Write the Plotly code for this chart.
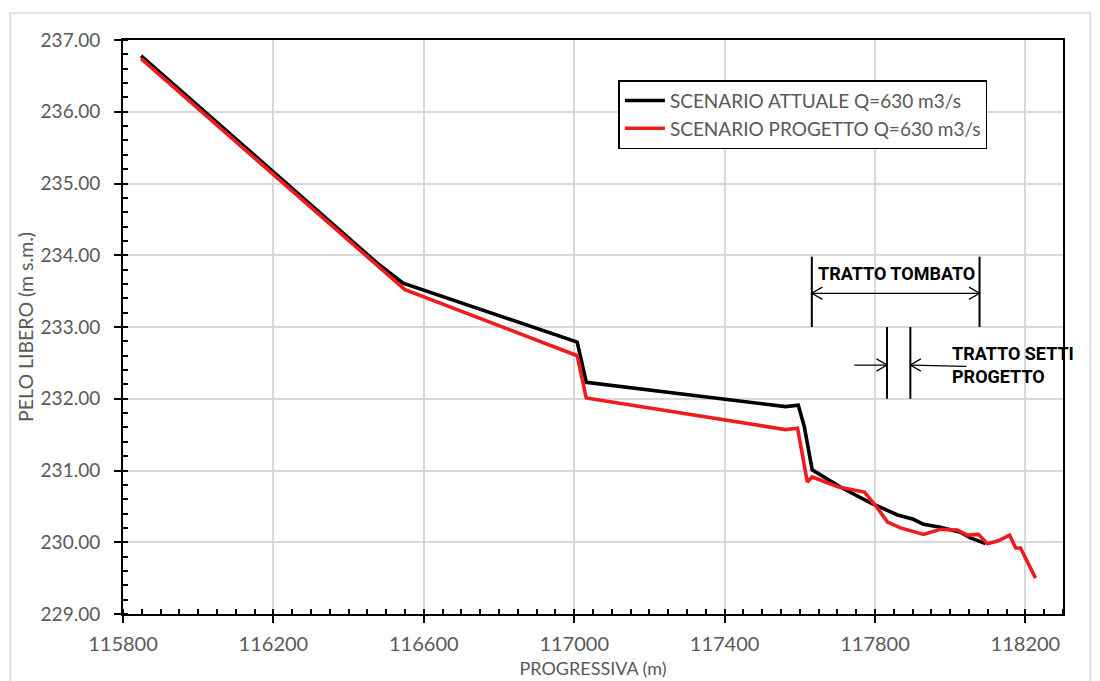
import plotly.graph_objects as go

# ---- data ----
x_attuale = [115848, 116476, 116545, 117008, 117032, 117562, 117596, 117612, 117633,
             117708, 117788, 117860, 117902, 117929, 117974, 118027, 118054, 118094]
y_attuale = [236.78, 233.89, 233.61, 232.79, 232.23, 231.89, 231.91, 231.61, 231.01,
             230.77, 230.55, 230.38, 230.32, 230.25, 230.21, 230.14, 230.06, 229.98]

x_progetto = [115848, 116550, 117008, 117032, 117562, 117594, 117620, 117633, 117703,
              117772, 117806, 117833, 117868, 117929, 117974, 118019, 118046, 118075,
              118099, 118128, 118158, 118174, 118187, 118227]
y_progetto = [236.74, 233.52, 232.60, 232.01, 231.57, 231.59, 230.84, 230.91, 230.77,
              230.70, 230.48, 230.28, 230.20, 230.11, 230.18, 230.17, 230.10, 230.11,
              229.98, 230.02, 230.10, 229.92, 229.92, 229.50]

series_names = ["SCENARIO ATTUALE Q=630 m3/s", "SCENARIO PROGETTO Q=630 m3/s"]
x_title = "PROGRESSIVA (m)"
y_title = "PELO LIBERO (m s.m.)"

# annotation geometry (data units)
tombato_x = [117632, 118078]
tombato_y = [233.0, 233.98]
tombato_arrow_y = 233.47
tombato_label = "TRATTO TOMBATO"
tombato_label_pos = (117857, 233.74)

setti_x = [117832, 117894]
setti_y = [232.0, 233.0]
setti_arrow_y = 232.47
setti_left_start = 117745
setti_right_end = 118043
setti_label = "TRATTO SETTI<br>PROGETTO"
setti_label_pos = (117999, 232.13)

GRAY = "#595959"
FONT = "Lato, 'Open Sans', sans-serif"
BOLDF = "Roboto, 'Liberation Sans', sans-serif"

fig = go.Figure()
fig.add_trace(go.Scatter(x=x_attuale, y=y_attuale, mode="lines", name=series_names[0],
                         line=dict(color="black", width=3.6)))
fig.add_trace(go.Scatter(x=x_progetto, y=y_progetto, mode="lines", name=series_names[1],
                         line=dict(color="#ee1c1c", width=3.6)))

shapes = []
blk = dict(color="black", width=2)
for xv in tombato_x:
    shapes.append(dict(type="line", xref="x", yref="y", x0=xv, x1=xv,
                       y0=tombato_y[0], y1=tombato_y[1], line=blk))
for xv in setti_x:
    shapes.append(dict(type="line", xref="x", yref="y", x0=xv, x1=xv,
                       y0=setti_y[0], y1=setti_y[1], line=blk))
thin = dict(color="black", width=1.3)
shapes.append(dict(type="line", xref="x", yref="y", x0=tombato_x[0], x1=tombato_x[1],
                   y0=tombato_arrow_y, y1=tombato_arrow_y, line=thin))
dx, dy = 28, 0.085
def chevron(xt, yt, direction):
    xb = xt - direction * dx
    return dict(type="path", xref="x", yref="y",
                path=f"M {xb} {yt+dy} L {xt} {yt} L {xb} {yt-dy}", line=thin)
shapes.append(chevron(tombato_x[0], tombato_arrow_y, -1))
shapes.append(chevron(tombato_x[1], tombato_arrow_y, 1))
shapes.append(dict(type="line", xref="x", yref="y", x0=setti_left_start, x1=setti_x[0],
                   y0=setti_arrow_y, y1=setti_arrow_y, line=thin))
shapes.append(chevron(setti_x[0], setti_arrow_y, 1))
shapes.append(dict(type="line", xref="x", yref="y", x0=setti_x[1], x1=setti_right_end,
                   y0=setti_arrow_y, y1=setti_arrow_y - 0.02, line=thin))
shapes.append(chevron(setti_x[1], setti_arrow_y, -1))
# outer chart frame
shapes.append(dict(type="rect", xref="paper", yref="paper", x0=-0.120, x1=1.029,
                   y0=-0.15, y1=1.047, line=dict(color="#d9d9d9", width=1.5), layer="below"))

annotations = [
    dict(x=tombato_label_pos[0], y=tombato_label_pos[1], xref="x", yref="y",
         text=f"<b>{tombato_label}</b>", showarrow=False,
         font=dict(family=BOLDF, size=18, color="black")),
    dict(x=setti_label_pos[0], y=setti_label_pos[1], xref="x", yref="y",
         text=f"<b>{setti_label}</b>", showarrow=False, xanchor="left", yanchor="bottom",
         align="left", font=dict(family=BOLDF, size=18, color="black")),
]

fig.update_layout(
    width=1100, height=681,
    margin=dict(l=115, r=45, t=32, b=75, autoexpand=False),
    paper_bgcolor="white", plot_bgcolor="white",
    font=dict(family=FONT, color=GRAY, size=17),
    shapes=shapes, annotations=annotations,
    legend=dict(x=0.527, y=0.930, xanchor="left", yanchor="top",
                bordercolor="black", borderwidth=1.5, bgcolor="white",
                font=dict(family=FONT, size=19, color=GRAY),
                tracegroupgap=0, itemwidth=40),
    showlegend=True,
)
fig.update_xaxes(
    range=[115800, 118300], tick0=115800, dtick=400, tickformat="d",
    showgrid=True, gridcolor="#d9d9d9", gridwidth=1.5,
    showline=True, linecolor="black", linewidth=2, mirror=True,
    ticks="outside", ticklen=7, tickwidth=2, tickcolor="black",
    minor=dict(dtick=50, ticks="inside", ticklen=5, tickwidth=2, tickcolor="black", showgrid=False),
    tickfont=dict(family=FONT, size=20, color=GRAY), ticklabelstandoff=4,
    title=dict(text=x_title, font=dict(family=FONT, size=18, color=GRAY), standoff=8),
    zeroline=False,
)
fig.update_yaxes(
    range=[229, 237], tick0=229, dtick=1, tickformat=".2f",
    showgrid=True, gridcolor="#d9d9d9", gridwidth=1.5,
    showline=True, linecolor="black", linewidth=2, mirror=True,
    ticks="outside", ticklen=7, tickwidth=2, tickcolor="black",
    minor=dict(dtick=0.2, ticks="inside", ticklen=5, tickwidth=2, tickcolor="black", showgrid=False),
    tickfont=dict(family=FONT, size=19, color=GRAY), ticklabelstandoff=10,
    title=dict(text=y_title, font=dict(family=FONT, size=19.5, color=GRAY), standoff=2),
    zeroline=False,
)

fig.write_html("out.html")
